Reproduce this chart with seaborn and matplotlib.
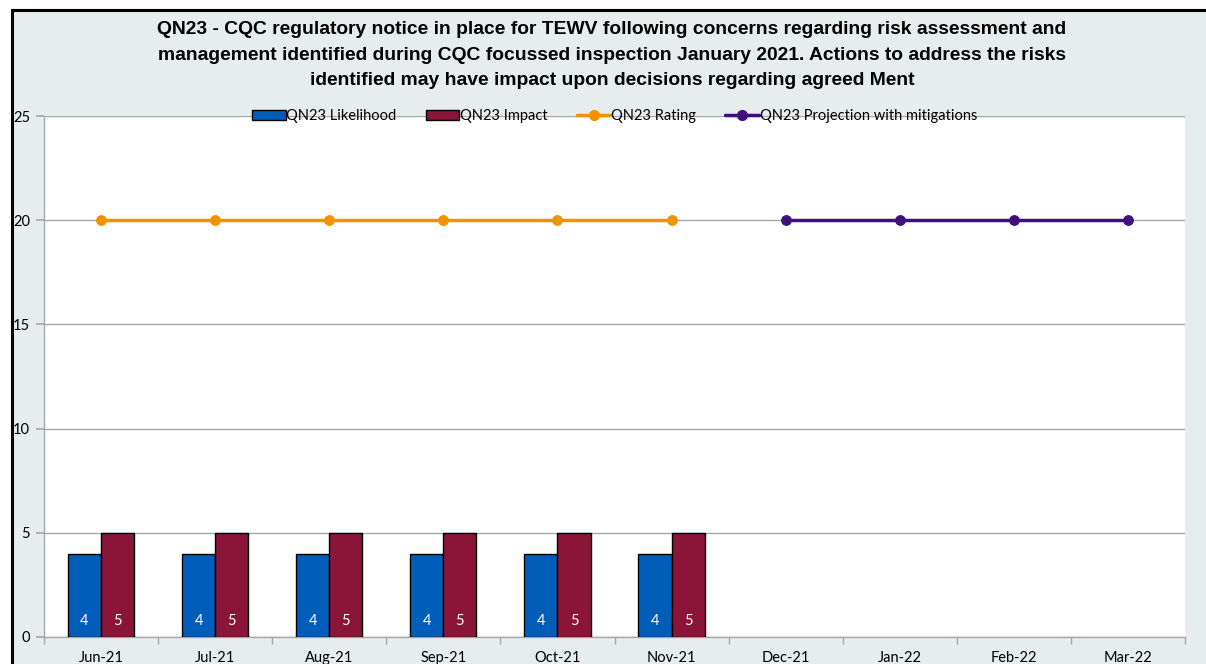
import numpy as np
import pandas as pd
import matplotlib.pyplot as plt
import seaborn as sns
from matplotlib.patches import Patch, Rectangle
from matplotlib.lines import Line2D

# Chart data
MONTHS = ["Jun-21", "Jul-21", "Aug-21", "Sep-21", "Oct-21", "Nov-21",
          "Dec-21", "Jan-22", "Feb-22", "Mar-22"]
LIKELIHOOD = [4, 4, 4, 4, 4, 4, np.nan, np.nan, np.nan, np.nan]
IMPACT = [5, 5, 5, 5, 5, 5, np.nan, np.nan, np.nan, np.nan]
RATING = [20, 20, 20, 20, 20, 20, np.nan, np.nan, np.nan, np.nan]
PROJECTION = [np.nan, np.nan, np.nan, np.nan, np.nan, np.nan, 20, 20, 20, 20]

SERIES_NAMES = ["QN23 Likelihood", "QN23 Impact", "QN23 Rating",
                "QN23 Projection with mitigations"]
TITLE = ("QN23 - CQC regulatory notice in place for TEWV following concerns regarding risk assessment and\n"
         "management identified during CQC focussed inspection January 2021. Actions to address the risks\n"
         "identified may have impact upon decisions regarding agreed Ment")

BLUE = "#005EB8"
RED = "#8A1538"
ORANGE = "#F39200"
PURPLE = "#3F0F7F"
BG = "#E7ECEC"


def make_chart():
    sns.set_theme(style="white")
    plt.rcParams["font.family"] = ["Lato", "DejaVu Sans"]
    plt.rcParams["text.color"] = "black"

    fig = plt.figure(figsize=(12.06, 6.64), dpi=100, facecolor="white")
    # grey chart background with black frame (cropped at right/bottom)
    fig.add_artist(Rectangle((12 / 1206, -0.2), 1.2, 1.2 - 10 / 664,
                             transform=fig.transFigure, facecolor=BG,
                             edgecolor="black", linewidth=2.2, zorder=0))

    ax = fig.add_axes([44 / 1206, 27 / 664, 1141 / 1206, 521 / 664])
    ax.set_facecolor("white")

    bars = pd.DataFrame({
        "month": MONTHS * 2,
        "value": LIKELIHOOD + IMPACT,
        "series": [SERIES_NAMES[0]] * len(MONTHS) + [SERIES_NAMES[1]] * len(MONTHS),
    })
    sns.barplot(data=bars, x="month", y="value", hue="series", order=MONTHS,
                hue_order=SERIES_NAMES[:2], palette=[BLUE, RED], width=0.58,
                edgecolor="black", linewidth=1, saturation=1, ax=ax,
                legend=False, zorder=3)

    # white value labels near the base of each bar
    for container in ax.containers:
        for patch in container:
            h = patch.get_height()
            if np.isnan(h) or h == 0:
                continue
            ax.text(patch.get_x() + patch.get_width() / 2, 0.77, f"{h:.0f}",
                    color="white", ha="center", va="center", fontsize=10.5,
                    zorder=4)

    pos = np.arange(len(MONTHS))
    sns.lineplot(x=pos, y=RATING, color=ORANGE, linewidth=2.5, marker="o",
                 markersize=7, markeredgecolor=ORANGE, ax=ax, zorder=5)
    sns.lineplot(x=pos, y=PROJECTION, color=PURPLE, linewidth=2.5, marker="o",
                 markersize=7, markeredgecolor=PURPLE, ax=ax, zorder=5)

    ax.set_xlim(-0.5, len(MONTHS) - 0.5)
    ax.set_ylim(0, 25)
    ax.set_yticks(range(0, 26, 5))
    ax.set_xlabel("")
    ax.set_ylabel("")
    ax.grid(axis="y", color="#A6A6A6", linewidth=1)
    ax.set_axisbelow(True)

    for side in ["top", "right"]:
        ax.spines[side].set_visible(False)
    for side in ["left", "bottom"]:
        ax.spines[side].set_color("#A6A6A6")
        ax.spines[side].set_linewidth(1)

    ax.set_xticks(pos)
    ax.set_xticklabels(MONTHS)
    ax.set_xticks(np.arange(-0.5, len(MONTHS)), minor=True)
    ax.tick_params(axis="x", which="major", length=0, pad=10, labelsize=10.5,
                   labelcolor="black")
    ax.tick_params(axis="x", which="minor", bottom=True, length=5,
                   color="#A6A6A6", direction="out")
    ax.tick_params(axis="y", left=True, length=6, color="#A6A6A6",
                   direction="out", labelsize=10.5, pad=4, labelcolor="black")

    handles = [
        Patch(facecolor=BLUE, edgecolor="black", linewidth=1),
        Patch(facecolor=RED, edgecolor="black", linewidth=1),
        Line2D([], [], color=ORANGE, linewidth=2.5, marker="o", markersize=7),
        Line2D([], [], color=PURPLE, linewidth=2.5, marker="o", markersize=7),
    ]
    leg = ax.legend(handles, SERIES_NAMES, loc="center", bbox_to_anchor=(0.5, 1.0),
                    ncol=4, frameon=False, fontsize=10.5, handlelength=2.3,
                    handleheight=0.75, handletextpad=0.05, columnspacing=2.0,
                    borderaxespad=0)
    leg.set_zorder(6)

    fig.text(0.5075, 1 - 55 / 664, TITLE, ha="center", va="center",
             fontsize=13.9, fontweight="bold", family="Liberation Sans",
             linespacing=1.62, color="black")

    fig.savefig("out.png", dpi=100)
    plt.close(fig)


if __name__ == "__main__":
    make_chart()
